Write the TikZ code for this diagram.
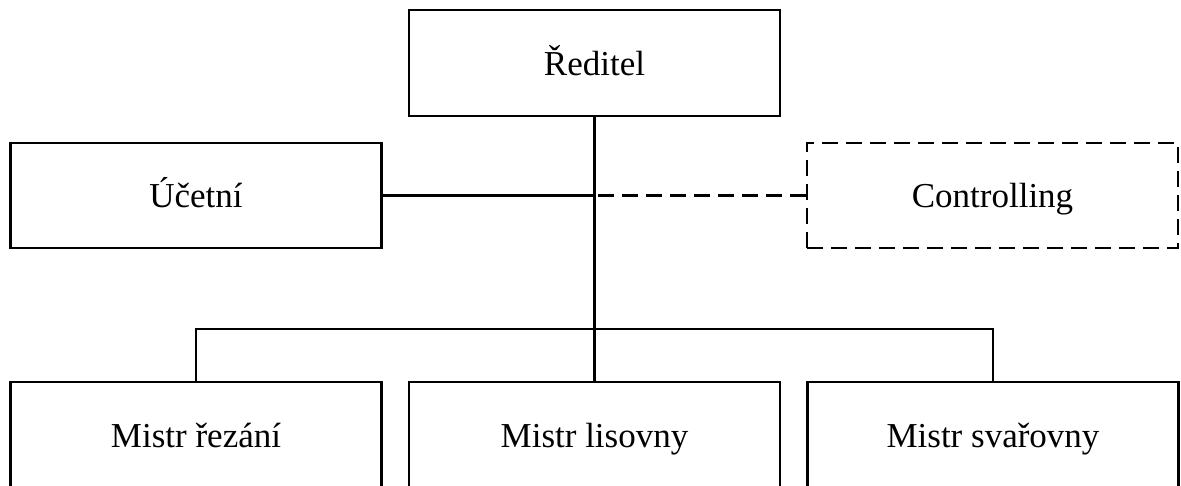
\documentclass[tikz,border=0pt]{standalone}
\usepackage{fontspec}
\setmainfont{Liberation Serif}
\begin{document}
\begin{tikzpicture}[x=1pt,y=-1pt,
  box/.style={draw, line width=2.2pt, minimum width=371pt, minimum height=106pt,
    inner sep=0pt, font=\fontsize{35}{42}\selectfont, text height=24pt, text depth=0pt},
  dbox/.style={box, dash pattern=on 16pt off 8pt},
  link/.style={line width=2.2pt},
  dlink/.style={line width=2.2pt, dash pattern=on 16pt off 8pt}]
\useasboundingbox (0,0) rectangle (1181,485);
\clip (0,0) rectangle (1181,485);
\node[box] (red) at (594.5,63) {Ředitel};
\node[box, minimum height=105pt] (uce) at (196,195.5) {Účetní};
\node[dbox, minimum height=105pt] (con) at (992.5,195.5) {Controlling};
\node[box] (rez) at (196,435) {Mistr řezání};
\node[box] (lis) at (594.5,435) {Mistr lisovny};
\node[box] (sva) at (993,435) {Mistr svařovny};
\coordinate (bus) at (594.5,329);
\draw[link] (red.south) -- (lis.north);
\draw[link] (uce.east) -- (uce.east -| red.south);
\draw[dlink] (con.west) -- (con.west -| red.south);
\draw[link] (rez.north) |- (bus) -| (sva.north);
\end{tikzpicture}
\end{document}
